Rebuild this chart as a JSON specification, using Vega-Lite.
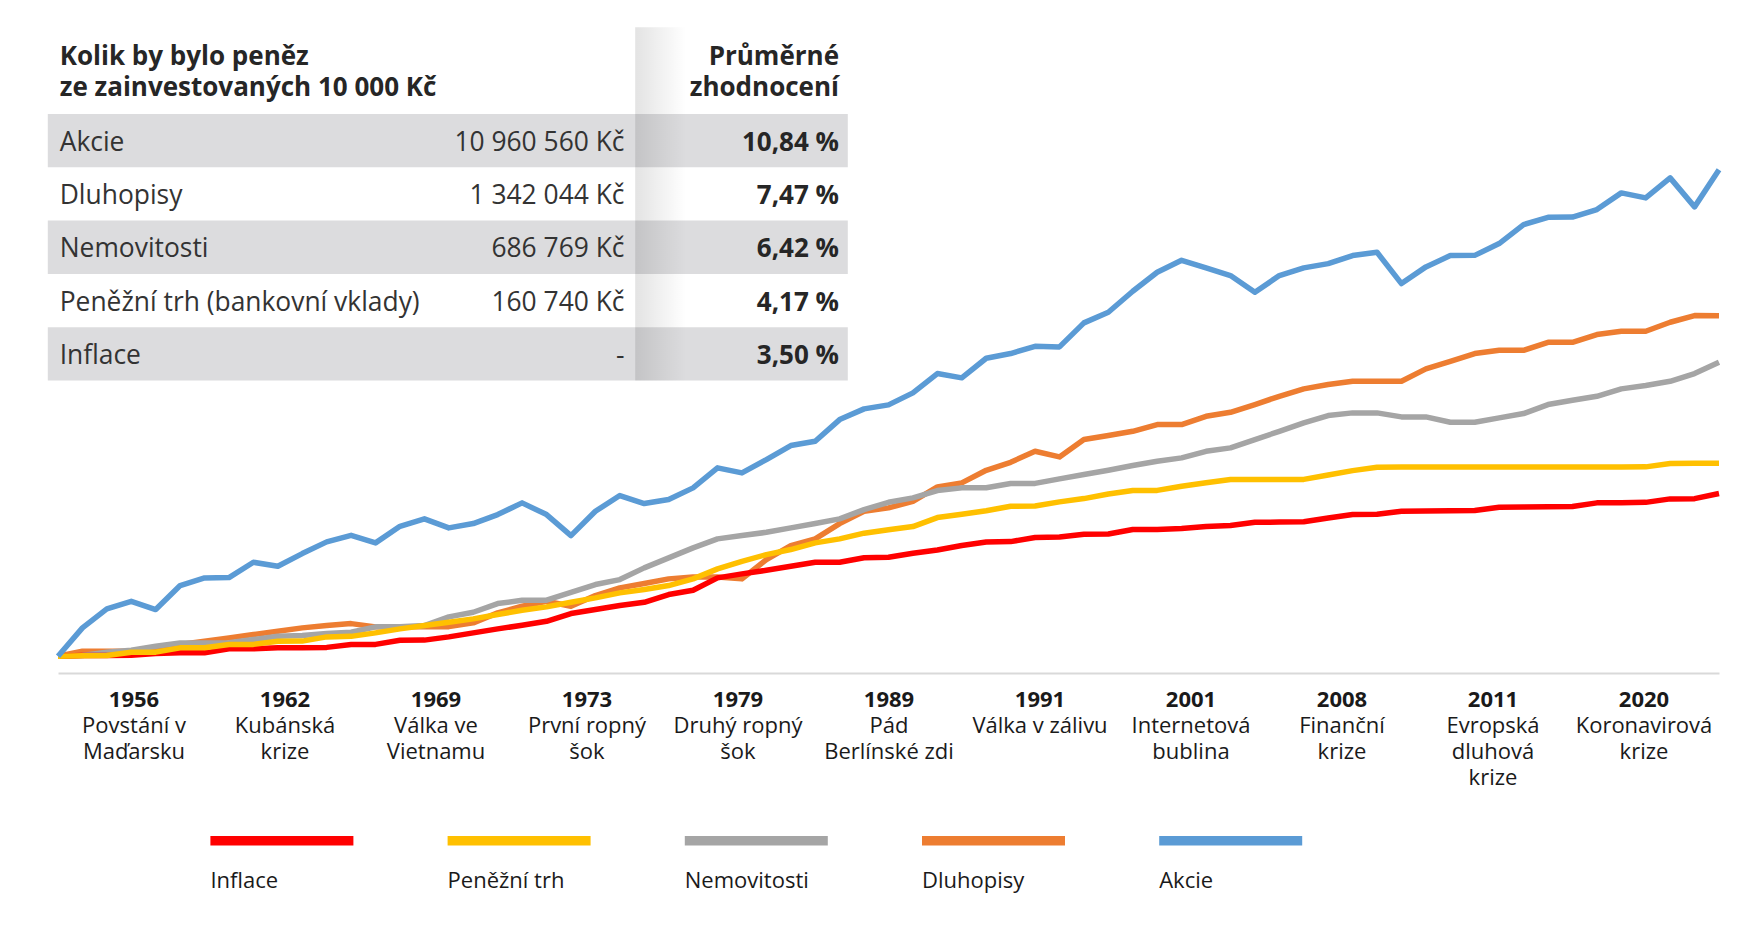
{
"$schema":"https://vega.github.io/schema/vega-lite/v6.json",
"width":1661,"height":653,
"autosize":{"type":"none"},
"padding":{"left":58,"top":20,"right":35,"bottom":277},
"background":"white",
"config":{"font":"Open Sans","view":{"stroke":null}},
"resolve":{"scale":{"x":"independent","y":"independent"},"axis":{"x":"independent","y":"independent"}},
"datasets":{
"tabulka":[
{"polozka":"Akcie","castka":"10 960 560 Kč","zhodnoceni":"10,84 %"},
{"polozka":"Dluhopisy","castka":"1 342 044 Kč","zhodnoceni":"7,47 %"},
{"polozka":"Nemovitosti","castka":"686 769 Kč","zhodnoceni":"6,42 %"},
{"polozka":"Peněžní trh (bankovní vklady)","castka":"160 740 Kč","zhodnoceni":"4,17 %"},
{"polozka":"Inflace","castka":"-","zhodnoceni":"3,50 %"}
],
"hlavicka":[{"nadpis":["Kolik by bylo peněz","ze zainvestovaných 10 000 Kč"],"sloupec":["Průměrné","zhodnocení"]}],
"vyvoj":[
{"rok":1953,"serie":"Dluhopisy","hodnota":10000},{"rok":1954,"serie":"Dluhopisy","hodnota":10730},{"rok":1955,"serie":"Dluhopisy","hodnota":10730},{"rok":1956,"serie":"Dluhopisy","hodnota":10750},{"rok":1957,"serie":"Dluhopisy","hodnota":11110},{"rok":1958,"serie":"Dluhopisy","hodnota":11820},{"rok":1959,"serie":"Dluhopisy","hodnota":12390},{"rok":1960,"serie":"Dluhopisy","hodnota":13010},{"rok":1961,"serie":"Dluhopisy","hodnota":13650},{"rok":1962,"serie":"Dluhopisy","hodnota":14310},
{"rok":1963,"serie":"Dluhopisy","hodnota":15030},{"rok":1964,"serie":"Dluhopisy","hodnota":15530},{"rok":1965,"serie":"Dluhopisy","hodnota":15980},{"rok":1966,"serie":"Dluhopisy","hodnota":15250},{"rok":1967,"serie":"Dluhopisy","hodnota":15250},{"rok":1968,"serie":"Dluhopisy","hodnota":15300},{"rok":1969,"serie":"Dluhopisy","hodnota":15300},{"rok":1970,"serie":"Dluhopisy","hodnota":16150},{"rok":1971,"serie":"Dluhopisy","hodnota":18650},{"rok":1972,"serie":"Dluhopisy","hodnota":20510},
{"rok":1973,"serie":"Dluhopisy","hodnota":22030},{"rok":1974,"serie":"Dluhopisy","hodnota":20510},{"rok":1975,"serie":"Dluhopisy","hodnota":23920},{"rok":1976,"serie":"Dluhopisy","hodnota":26730},{"rok":1977,"serie":"Dluhopisy","hodnota":28430},{"rok":1978,"serie":"Dluhopisy","hodnota":30420},{"rok":1979,"serie":"Dluhopisy","hodnota":31300},{"rok":1980,"serie":"Dluhopisy","hodnota":31300},{"rok":1981,"serie":"Dluhopisy","hodnota":30420},{"rok":1982,"serie":"Dluhopisy","hodnota":40160},
{"rok":1983,"serie":"Dluhopisy","hodnota":49120},{"rok":1984,"serie":"Dluhopisy","hodnota":54090},{"rok":1985,"serie":"Dluhopisy","hodnota":67410},{"rok":1986,"serie":"Dluhopisy","hodnota":80470},{"rok":1987,"serie":"Dluhopisy","hodnota":84500},{"rok":1988,"serie":"Dluhopisy","hodnota":92920},{"rok":1989,"serie":"Dluhopisy","hodnota":114300},{"rok":1990,"serie":"Dluhopisy","hodnota":121100},{"rok":1991,"serie":"Dluhopisy","hodnota":145200},{"rok":1992,"serie":"Dluhopisy","hodnota":162900},
{"rok":1993,"serie":"Dluhopisy","hodnota":190800},{"rok":1994,"serie":"Dluhopisy","hodnota":176000},{"rok":1995,"serie":"Dluhopisy","hodnota":225800},{"rok":1996,"serie":"Dluhopisy","hodnota":239200},{"rok":1997,"serie":"Dluhopisy","hodnota":254400},{"rok":1998,"serie":"Dluhopisy","hodnota":280300},{"rok":1999,"serie":"Dluhopisy","hodnota":280300},{"rok":2000,"serie":"Dluhopisy","hodnota":315800},{"rok":2001,"serie":"Dluhopisy","hodnota":334500},{"rok":2002,"serie":"Dluhopisy","hodnota":373700},
{"rok":2003,"serie":"Dluhopisy","hodnota":421100},{"rok":2004,"serie":"Dluhopisy","hodnota":468400},{"rok":2005,"serie":"Dluhopisy","hodnota":498300},{"rok":2006,"serie":"Dluhopisy","hodnota":522500},{"rok":2007,"serie":"Dluhopisy","hodnota":522500},{"rok":2008,"serie":"Dluhopisy","hodnota":522500},{"rok":2009,"serie":"Dluhopisy","hodnota":624600},{"rok":2010,"serie":"Dluhopisy","hodnota":696700},{"rok":2011,"serie":"Dluhopisy","hodnota":778600},{"rok":2012,"serie":"Dluhopisy","hodnota":816500},
{"rok":2013,"serie":"Dluhopisy","hodnota":816500},{"rok":2014,"serie":"Dluhopisy","hodnota":916000},{"rok":2015,"serie":"Dluhopisy","hodnota":916000},{"rok":2016,"serie":"Dluhopisy","hodnota":1023000},{"rok":2017,"serie":"Dluhopisy","hodnota":1073000},{"rok":2018,"serie":"Dluhopisy","hodnota":1073000},{"rok":2019,"serie":"Dluhopisy","hodnota":1222000},{"rok":2020,"serie":"Dluhopisy","hodnota":1345000},{"rok":2021,"serie":"Dluhopisy","hodnota":1342044},
{"rok":1953,"serie":"Nemovitosti","hodnota":10000},{"rok":1954,"serie":"Nemovitosti","hodnota":10100},{"rok":1955,"serie":"Nemovitosti","hodnota":10580},{"rok":1956,"serie":"Nemovitosti","hodnota":10890},{"rok":1957,"serie":"Nemovitosti","hodnota":11530},{"rok":1958,"serie":"Nemovitosti","hodnota":12110},{"rok":1959,"serie":"Nemovitosti","hodnota":12110},{"rok":1960,"serie":"Nemovitosti","hodnota":12150},{"rok":1961,"serie":"Nemovitosti","hodnota":12700},{"rok":1962,"serie":"Nemovitosti","hodnota":13320},
{"rok":1963,"serie":"Nemovitosti","hodnota":13450},{"rok":1964,"serie":"Nemovitosti","hodnota":13840},{"rok":1965,"serie":"Nemovitosti","hodnota":14110},{"rok":1966,"serie":"Nemovitosti","hodnota":15250},{"rok":1967,"serie":"Nemovitosti","hodnota":15300},{"rok":1968,"serie":"Nemovitosti","hodnota":15530},{"rok":1969,"serie":"Nemovitosti","hodnota":17610},{"rok":1970,"serie":"Nemovitosti","hodnota":18810},{"rok":1971,"serie":"Nemovitosti","hodnota":21320},{"rok":1972,"serie":"Nemovitosti","hodnota":22360},
{"rok":1973,"serie":"Nemovitosti","hodnota":22400},{"rok":1974,"serie":"Nemovitosti","hodnota":25080},{"rok":1975,"serie":"Nemovitosti","hodnota":28030},{"rok":1976,"serie":"Nemovitosti","hodnota":30110},{"rok":1977,"serie":"Nemovitosti","hodnota":35640},{"rok":1978,"serie":"Nemovitosti","hodnota":41160},{"rok":1979,"serie":"Nemovitosti","hodnota":47530},{"rok":1980,"serie":"Nemovitosti","hodnota":54090},{"rok":1981,"serie":"Nemovitosti","hodnota":56710},{"rok":1982,"serie":"Nemovitosti","hodnota":59480},
{"rok":1983,"serie":"Nemovitosti","hodnota":63370},{"rok":1984,"serie":"Nemovitosti","hodnota":67410},{"rok":1985,"serie":"Nemovitosti","hodnota":72140},{"rok":1986,"serie":"Nemovitosti","hodnota":82470},{"rok":1987,"serie":"Nemovitosti","hodnota":91600},{"rok":1988,"serie":"Nemovitosti","hodnota":97590},{"rok":1989,"serie":"Nemovitosti","hodnota":108400},{"rok":1990,"serie":"Nemovitosti","hodnota":112700},{"rok":1991,"serie":"Nemovitosti","hodnota":113000},{"rok":1992,"serie":"Nemovitosti","hodnota":119900},
{"rok":1993,"serie":"Nemovitosti","hodnota":120200},{"rok":1994,"serie":"Nemovitosti","hodnota":128300},{"rok":1995,"serie":"Nemovitosti","hodnota":136500},{"rok":1996,"serie":"Nemovitosti","hodnota":145200},{"rok":1997,"serie":"Nemovitosti","hodnota":155400},{"rok":1998,"serie":"Nemovitosti","hodnota":165200},{"rok":1999,"serie":"Nemovitosti","hodnota":173500},{"rok":2000,"serie":"Nemovitosti","hodnota":190800},{"rok":2001,"serie":"Nemovitosti","hodnota":200400},{"rok":2002,"serie":"Nemovitosti","hodnota":225800},
{"rok":2003,"serie":"Nemovitosti","hodnota":254400},{"rok":2004,"serie":"Nemovitosti","hodnota":287200},{"rok":2005,"serie":"Nemovitosti","hodnota":318900},{"rok":2006,"serie":"Nemovitosti","hodnota":331600},{"rok":2007,"serie":"Nemovitosti","hodnota":331600},{"rok":2008,"serie":"Nemovitosti","hodnota":313000},{"rok":2009,"serie":"Nemovitosti","hodnota":313000},{"rok":2010,"serie":"Nemovitosti","hodnota":289700},{"rok":2011,"serie":"Nemovitosti","hodnota":289700},{"rok":2012,"serie":"Nemovitosti","hodnota":308600},
{"rok":2013,"serie":"Nemovitosti","hodnota":328400},{"rok":2014,"serie":"Nemovitosti","hodnota":373700},{"rok":2015,"serie":"Nemovitosti","hodnota":397500},{"rok":2016,"serie":"Nemovitosti","hodnota":421100},{"rok":2017,"serie":"Nemovitosti","hodnota":468400},{"rok":2018,"serie":"Nemovitosti","hodnota":491300},{"rok":2019,"serie":"Nemovitosti","hodnota":522500},{"rok":2020,"serie":"Nemovitosti","hodnota":584000},{"rok":2021,"serie":"Nemovitosti","hodnota":686769},
{"rok":1953,"serie":"Inflace","hodnota":10000},{"rok":1954,"serie":"Inflace","hodnota":10100},{"rok":1955,"serie":"Inflace","hodnota":10100},{"rok":1956,"serie":"Inflace","hodnota":10150},{"rok":1957,"serie":"Inflace","hodnota":10380},{"rok":1958,"serie":"Inflace","hodnota":10490},{"rok":1959,"serie":"Inflace","hodnota":10490},{"rok":1960,"serie":"Inflace","hodnota":11110},{"rok":1961,"serie":"Inflace","hodnota":11110},{"rok":1962,"serie":"Inflace","hodnota":11270},
{"rok":1963,"serie":"Inflace","hodnota":11300},{"rok":1964,"serie":"Inflace","hodnota":11350},{"rok":1965,"serie":"Inflace","hodnota":11820},{"rok":1966,"serie":"Inflace","hodnota":11850},{"rok":1967,"serie":"Inflace","hodnota":12570},{"rok":1968,"serie":"Inflace","hodnota":12600},{"rok":1969,"serie":"Inflace","hodnota":13200},{"rok":1970,"serie":"Inflace","hodnota":13980},{"rok":1971,"serie":"Inflace","hodnota":14810},{"rok":1972,"serie":"Inflace","hodnota":15600},
{"rok":1973,"serie":"Inflace","hodnota":16520},{"rok":1974,"serie":"Inflace","hodnota":18460},{"rok":1975,"serie":"Inflace","hodnota":19560},{"rok":1976,"serie":"Inflace","hodnota":20720},{"rok":1977,"serie":"Inflace","hodnota":21720},{"rok":1978,"serie":"Inflace","hodnota":24270},{"rok":1979,"serie":"Inflace","hodnota":25820},{"rok":1980,"serie":"Inflace","hodnota":30860},{"rok":1981,"serie":"Inflace","hodnota":32690},{"rok":1982,"serie":"Inflace","hodnota":34430},
{"rok":1983,"serie":"Inflace","hodnota":36470},{"rok":1984,"serie":"Inflace","hodnota":38630},{"rok":1985,"serie":"Inflace","hodnota":38630},{"rok":1986,"serie":"Inflace","hodnota":41210},{"rok":1987,"serie":"Inflace","hodnota":41500},{"rok":1988,"serie":"Inflace","hodnota":43960},{"rok":1989,"serie":"Inflace","hodnota":46110},{"rok":1990,"serie":"Inflace","hodnota":49190},{"rok":1991,"serie":"Inflace","hodnota":51660},{"rok":1992,"serie":"Inflace","hodnota":52000},
{"rok":1993,"serie":"Inflace","hodnota":55110},{"rok":1994,"serie":"Inflace","hodnota":55500},{"rok":1995,"serie":"Inflace","hodnota":57800},{"rok":1996,"serie":"Inflace","hodnota":58000},{"rok":1997,"serie":"Inflace","hodnota":61840},{"rok":1998,"serie":"Inflace","hodnota":62000},{"rok":1999,"serie":"Inflace","hodnota":62740},{"rok":2000,"serie":"Inflace","hodnota":64570},{"rok":2001,"serie":"Inflace","hodnota":65500},{"rok":2002,"serie":"Inflace","hodnota":68680},
{"rok":2003,"serie":"Inflace","hodnota":68900},{"rok":2004,"serie":"Inflace","hodnota":69200},{"rok":2005,"serie":"Inflace","hodnota":72980},{"rok":2006,"serie":"Inflace","hodnota":76740},{"rok":2007,"serie":"Inflace","hodnota":77000},{"rok":2008,"serie":"Inflace","hodnota":80470},{"rok":2009,"serie":"Inflace","hodnota":80700},{"rok":2010,"serie":"Inflace","hodnota":81000},{"rok":2011,"serie":"Inflace","hodnota":81300},{"rok":2012,"serie":"Inflace","hodnota":85230},
{"rok":2013,"serie":"Inflace","hodnota":85500},{"rok":2014,"serie":"Inflace","hodnota":85800},{"rok":2015,"serie":"Inflace","hodnota":86100},{"rok":2016,"serie":"Inflace","hodnota":90820},{"rok":2017,"serie":"Inflace","hodnota":91100},{"rok":2018,"serie":"Inflace","hodnota":91500},{"rok":2019,"serie":"Inflace","hodnota":96190},{"rok":2020,"serie":"Inflace","hodnota":96500},{"rok":2021,"serie":"Inflace","hodnota":103900},
{"rok":1953,"serie":"Peněžní trh","hodnota":10000},{"rok":1954,"serie":"Peněžní trh","hodnota":10050},{"rok":1955,"serie":"Peněžní trh","hodnota":10100},{"rok":1956,"serie":"Peněžní trh","hodnota":10580},{"rok":1957,"serie":"Peněžní trh","hodnota":10600},{"rok":1958,"serie":"Peněžní trh","hodnota":11270},{"rok":1959,"serie":"Peněžní trh","hodnota":11300},{"rok":1960,"serie":"Peněžní trh","hodnota":11820},{"rok":1961,"serie":"Peněžní trh","hodnota":11850},{"rok":1962,"serie":"Peněžní trh","hodnota":12390},
{"rok":1963,"serie":"Peněžní trh","hodnota":12420},{"rok":1964,"serie":"Peněžní trh","hodnota":13200},{"rok":1965,"serie":"Peněžní trh","hodnota":13300},{"rok":1966,"serie":"Peněžní trh","hodnota":13980},{"rok":1967,"serie":"Peněžní trh","hodnota":14810},{"rok":1968,"serie":"Peněžní trh","hodnota":15530},{"rok":1969,"serie":"Peněžní trh","hodnota":16290},{"rok":1970,"serie":"Peněžní trh","hodnota":17110},{"rok":1971,"serie":"Peněžní trh","hodnota":18200},{"rok":1972,"serie":"Peněžní trh","hodnota":19360},
{"rok":1973,"serie":"Peněžní trh","hodnota":20330},{"rok":1974,"serie":"Peněžní trh","hodnota":21720},{"rok":1975,"serie":"Peněžní trh","hodnota":23140},{"rok":1976,"serie":"Peněžní trh","hodnota":24870},{"rok":1977,"serie":"Peněžní trh","hodnota":26080},{"rok":1978,"serie":"Peněžní trh","hodnota":27630},{"rok":1979,"serie":"Peněžní trh","hodnota":30420},{"rok":1980,"serie":"Peněžní trh","hodnota":35130},{"rok":1981,"serie":"Peněžní trh","hodnota":39180},{"rok":1982,"serie":"Peněžní trh","hodnota":43150},
{"rok":1983,"serie":"Peněžní trh","hodnota":46380},{"rok":1984,"serie":"Peněžní trh","hodnota":51070},{"rok":1985,"serie":"Peněžní trh","hodnota":54090},{"rok":1986,"serie":"Peněžní trh","hodnota":58720},{"rok":1987,"serie":"Peněžní trh","hodnota":61660},{"rok":1988,"serie":"Peněžní trh","hodnota":64570},{"rok":1989,"serie":"Peněžní trh","hodnota":73520},{"rok":1990,"serie":"Peněžní trh","hodnota":77180},{"rok":1991,"serie":"Peněžní trh","hodnota":81060},{"rok":1992,"serie":"Peněžní trh","hodnota":86470},
{"rok":1993,"serie":"Peněžní trh","hodnota":86800},{"rok":1994,"serie":"Peněžní trh","hodnota":92130},{"rok":1995,"serie":"Peněžní trh","hodnota":96600},{"rok":1996,"serie":"Peněžní trh","hodnota":103200},{"rok":1997,"serie":"Peněžní trh","hodnota":108400},{"rok":1998,"serie":"Peněžní trh","hodnota":108700},{"rok":1999,"serie":"Peněžní trh","hodnota":115500},{"rok":2000,"serie":"Peněžní trh","hodnota":121300},{"rok":2001,"serie":"Peněžní trh","hodnota":127000},{"rok":2002,"serie":"Peněžní trh","hodnota":127100},
{"rok":2003,"serie":"Peněžní trh","hodnota":127200},{"rok":2004,"serie":"Peněžní trh","hodnota":127300},{"rok":2005,"serie":"Peněžní trh","hodnota":135700},{"rok":2006,"serie":"Peněžní trh","hodnota":144500},{"rok":2007,"serie":"Peněžní trh","hodnota":151800},{"rok":2008,"serie":"Peněžní trh","hodnota":152000},{"rok":2009,"serie":"Peněžní trh","hodnota":152000},{"rok":2010,"serie":"Peněžní trh","hodnota":152100},{"rok":2011,"serie":"Peněžní trh","hodnota":152100},{"rok":2012,"serie":"Peněžní trh","hodnota":152200},
{"rok":2013,"serie":"Peněžní trh","hodnota":152200},{"rok":2014,"serie":"Peněžní trh","hodnota":152300},{"rok":2015,"serie":"Peněžní trh","hodnota":152300},{"rok":2016,"serie":"Peněžní trh","hodnota":152400},{"rok":2017,"serie":"Peněžní trh","hodnota":152400},{"rok":2018,"serie":"Peněžní trh","hodnota":152500},{"rok":2019,"serie":"Peněžní trh","hodnota":160000},{"rok":2020,"serie":"Peněžní trh","hodnota":160500},{"rok":2021,"serie":"Peněžní trh","hodnota":160740},
{"rok":1953,"serie":"Akcie","hodnota":10000},{"rok":1954,"serie":"Akcie","hodnota":15030},{"rok":1955,"serie":"Akcie","hodnota":19750},{"rok":1956,"serie":"Akcie","hodnota":22030},{"rok":1957,"serie":"Akcie","hodnota":19560},{"rok":1958,"serie":"Akcie","hodnota":27630},{"rok":1959,"serie":"Akcie","hodnota":30860},{"rok":1960,"serie":"Akcie","hodnota":31000},{"rok":1961,"serie":"Akcie","hodnota":38630},{"rok":1962,"serie":"Akcie","hodnota":36470},
{"rok":1963,"serie":"Akcie","hodnota":43780},{"rok":1964,"serie":"Akcie","hodnota":51800},{"rok":1965,"serie":"Akcie","hodnota":56950},{"rok":1966,"serie":"Akcie","hodnota":51070},{"rok":1967,"serie":"Akcie","hodnota":64840},{"rok":1968,"serie":"Akcie","hodnota":72140},{"rok":1969,"serie":"Akcie","hodnota":63370},{"rok":1970,"serie":"Akcie","hodnota":67410},{"rok":1971,"serie":"Akcie","hodnota":76740},{"rok":1972,"serie":"Akcie","hodnota":90820},
{"rok":1973,"serie":"Akcie","hodnota":76740},{"rok":1974,"serie":"Akcie","hodnota":56710},{"rok":1975,"serie":"Akcie","hodnota":80470},{"rok":1976,"serie":"Akcie","hodnota":100900},{"rok":1977,"serie":"Akcie","hodnota":89900},{"rok":1978,"serie":"Akcie","hodnota":95230},{"rok":1979,"serie":"Akcie","hodnota":112700},{"rok":1980,"serie":"Akcie","hodnota":150300},{"rok":1981,"serie":"Akcie","hodnota":139800},{"rok":1982,"serie":"Akcie","hodnota":169300},
{"rok":1983,"serie":"Akcie","hodnota":207200},{"rok":1984,"serie":"Akcie","hodnota":220300},{"rok":1985,"serie":"Akcie","hodnota":301100},{"rok":1986,"serie":"Akcie","hodnota":351300},{"rok":1987,"serie":"Akcie","hodnota":372100},{"rok":1988,"serie":"Akcie","hodnota":442200},{"rok":1989,"serie":"Akcie","hodnota":584000},{"rok":1990,"serie":"Akcie","hodnota":549000},{"rok":1991,"serie":"Akcie","hodnota":727700},{"rok":1992,"serie":"Akcie","hodnota":778600},
{"rok":1993,"serie":"Akcie","hodnota":864800},{"rok":1994,"serie":"Akcie","hodnota":857300},{"rok":1995,"serie":"Akcie","hodnota":1211000},{"rok":1996,"serie":"Akcie","hodnota":1411000},{"rok":1997,"serie":"Akcie","hodnota":1908000},{"rok":1998,"serie":"Akcie","hodnota":2508000},{"rok":1999,"serie":"Akcie","hodnota":2981000},{"rok":2000,"serie":"Akcie","hodnota":2673000},{"rok":2001,"serie":"Akcie","hodnota":2392000},{"rok":2002,"serie":"Akcie","hodnota":1881000},
{"rok":2003,"serie":"Akcie","hodnota":2392000},{"rok":2004,"serie":"Akcie","hodnota":2673000},{"rok":2005,"serie":"Akcie","hodnota":2842000},{"rok":2006,"serie":"Akcie","hodnota":3189000},{"rok":2007,"serie":"Akcie","hodnota":3344000},{"rok":2008,"serie":"Akcie","hodnota":2132000},{"rok":2009,"serie":"Akcie","hodnota":2711000},{"rok":2010,"serie":"Akcie","hodnota":3189000},{"rok":2011,"serie":"Akcie","hodnota":3200000},{"rok":2012,"serie":"Akcie","hodnota":3791000},
{"rok":2013,"serie":"Akcie","hodnota":4983000},{"rok":2014,"serie":"Akcie","hodnota":5535000},{"rok":2015,"serie":"Akcie","hodnota":5550000},{"rok":2016,"serie":"Akcie","hodnota":6184000},{"rok":2017,"serie":"Akcie","hodnota":7863000},{"rok":2018,"serie":"Akcie","hodnota":7318000},{"rok":2019,"serie":"Akcie","hodnota":9759000},{"rok":2020,"serie":"Akcie","hodnota":6428000},{"rok":2021,"serie":"Akcie","hodnota":10960560}
]
},
"layer":[
{
"data":{"name":"tabulka"},
"transform":[{"filter":{"field":"polozka","oneOf":["Akcie","Nemovitosti","Inflace"]}}],
"mark":{"type":"rect","color":"#dcdcde"},
"encoding":{
"x":{"datum":-10.2,"type":"quantitative","scale":{"domain":[0,1661],"nice":false,"zero":false},"axis":null},
"x2":{"datum":789.8},
"y":{"field":"polozka","type":"nominal","scale":{"type":"band","domain":["Akcie","Dluhopisy","Nemovitosti","Peněžní trh (bankovní vklady)","Inflace"],"range":[94,360.5],"paddingInner":0,"paddingOuter":0},"axis":null}
}
},
{
"data":{"values":[{}]},
"mark":{"type":"rect","color":{"gradient":"linear","x1":0,"x2":1,"y1":0,"y2":0,"stops":[{"offset":0,"color":"rgba(0,0,0,0.11)"},{"offset":0.24,"color":"rgba(0,0,0,0)"},{"offset":1,"color":"rgba(0,0,0,0)"}]}},
"encoding":{
"x":{"datum":577.2,"type":"quantitative","scale":{"domain":[0,1661],"nice":false,"zero":false},"axis":null},
"x2":{"datum":789.8},
"y":{"datum":7.3,"type":"quantitative","scale":{"domain":[653,0],"nice":false,"zero":false},"axis":null},
"y2":{"datum":360.5}
}
},
{
"data":{"name":"hlavicka"},
"mark":{"type":"text","align":"left","baseline":"top","fontSize":26,"fontWeight":"bold","lineHeight":30.5,"color":"#262626"},
"encoding":{
"x":{"datum":1.7,"type":"quantitative","scale":{"domain":[0,1661],"nice":false,"zero":false},"axis":null},
"y":{"datum":24,"type":"quantitative","scale":{"domain":[653,0],"nice":false,"zero":false},"axis":null},
"text":{"field":"nadpis"}
}
},
{
"data":{"name":"hlavicka"},
"mark":{"type":"text","align":"right","baseline":"top","fontSize":26,"fontWeight":"bold","lineHeight":30.5,"color":"#262626"},
"encoding":{
"x":{"datum":781,"type":"quantitative","scale":{"domain":[0,1661],"nice":false,"zero":false},"axis":null},
"y":{"datum":24,"type":"quantitative","scale":{"domain":[653,0],"nice":false,"zero":false},"axis":null},
"text":{"field":"sloupec"}
}
},
{
"data":{"name":"tabulka"},
"mark":{"type":"text","align":"left","baseline":"middle","fontSize":26.4,"dy":2,"color":"#333333"},
"encoding":{
"x":{"datum":1.7,"type":"quantitative","scale":{"domain":[0,1661],"nice":false,"zero":false},"axis":null},
"y":{"field":"polozka","type":"nominal","scale":{"type":"band","domain":["Akcie","Dluhopisy","Nemovitosti","Peněžní trh (bankovní vklady)","Inflace"],"range":[94,360.5],"paddingInner":0,"paddingOuter":0},"axis":null},
"text":{"field":"polozka"}
}
},
{
"data":{"name":"tabulka"},
"mark":{"type":"text","align":"right","baseline":"middle","fontSize":26.4,"dy":2,"color":"#333333"},
"encoding":{
"x":{"datum":566.5,"type":"quantitative","scale":{"domain":[0,1661],"nice":false,"zero":false},"axis":null},
"y":{"field":"polozka","type":"nominal","scale":{"type":"band","domain":["Akcie","Dluhopisy","Nemovitosti","Peněžní trh (bankovní vklady)","Inflace"],"range":[94,360.5],"paddingInner":0,"paddingOuter":0},"axis":null},
"text":{"field":"castka"}
}
},
{
"data":{"name":"tabulka"},
"mark":{"type":"text","align":"right","baseline":"middle","fontSize":26,"fontWeight":"bold","dy":2,"color":"#262626"},
"encoding":{
"x":{"datum":781,"type":"quantitative","scale":{"domain":[0,1661],"nice":false,"zero":false},"axis":null},
"y":{"field":"polozka","type":"nominal","scale":{"type":"band","domain":["Akcie","Dluhopisy","Nemovitosti","Peněžní trh (bankovní vklady)","Inflace"],"range":[94,360.5],"paddingInner":0,"paddingOuter":0},"axis":null},
"text":{"field":"zhodnoceni"}
}
},
{
"data":{"values":[{}]},
"mark":{"type":"rule","opacity":0},
"encoding":{
"x":{"datum":1953,"type":"quantitative","scale":{"domain":[1953,2021],"nice":false,"zero":false},
"axis":{"orient":"bottom","values":[1956.0909,1962.2727,1968.4545,1974.6364,1980.8182,1987,1993.1818,1999.3636,2005.5455,2011.7273,2017.9091],
"labelExpr":"[['Povstání v','Maďarsku'],['Kubánská','krize'],['Válka ve','Vietnamu'],['První ropný','šok'],['Druhý ropný','šok'],['Pád','Berlínské zdi'],['Válka v zálivu'],['Internetová','bublina'],['Finanční','krize'],['Evropská','dluhová','krize'],['Koronavirová','krize']][round((datum.value-1953)/6.181818-0.5)]",
"labelFontSize":22,"labelColor":"#1a1a1a","labelLineHeight":26,"labelBaseline":"top","labelPadding":42.5,"labelAlign":"center",
"domain":false,"ticks":false,"tickSize":0,"grid":false,"title":null,"labelOverlap":false,"labelFlush":false,"labelLimit":300}}
}
},
{
"data":{"name":"vyvoj"},
"mark":{"type":"line","strokeWidth":5.5,"strokeJoin":"round","strokeCap":"butt"},
"encoding":{
"x":{"field":"rok","type":"quantitative","scale":{"domain":[1953,2021],"nice":false,"zero":false},
"axis":{"orient":"bottom","values":[1956.0909,1962.2727,1968.4545,1974.6364,1980.8182,1987,1993.1818,1999.3636,2005.5455,2011.7273,2017.9091],
"labelExpr":"['1956','1962','1969','1973','1979','1989','1991','2001','2008','2011','2020'][round((datum.value-1953)/6.181818-0.5)]",
"labelFontSize":22,"labelFontWeight":"bold","labelColor":"#1a1a1a","labelBaseline":"middle","labelPadding":26.6,"labelAlign":"center",
"domain":true,"domainColor":"#d9d9d9","domainWidth":2,"ticks":false,"tickSize":0,"grid":false,"title":null,"labelOverlap":false,"labelFlush":false}},
"y":{"field":"hodnota","type":"quantitative","scale":{"type":"log","domain":[7850,94650000],"nice":false},"axis":null},
"color":{"field":"serie","type":"nominal",
"scale":{"domain":["Inflace","Peněžní trh","Nemovitosti","Dluhopisy","Akcie"],"range":["#ff0000","#ffc000","#a5a5a5","#ed7d31","#5b9bd5"]},
"legend":{"orient":"none","legendX":147.4,"legendY":784.2,"direction":"horizontal","title":null,"padding":0,
"symbolType":"M-1,-0.562L1,-0.562","symbolSize":20449,"symbolStrokeWidth":9.3,
"labelOffset":-148,"labelFontSize":22,"labelColor":"#1a1a1a","columnPadding":56.2,"labelLimit":300}}
}
}
]
}
